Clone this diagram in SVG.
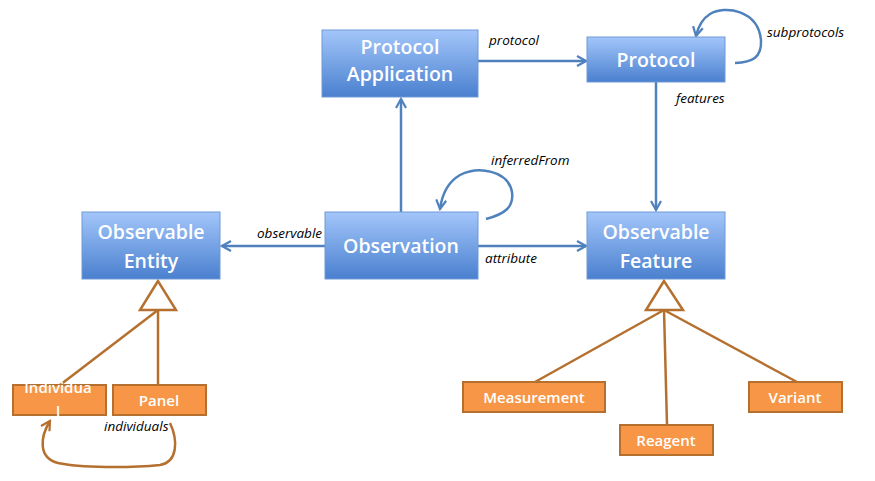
<svg xmlns="http://www.w3.org/2000/svg" width="875" height="481" viewBox="0 0 875 481">
<defs>
<linearGradient id="blue" x1="0" y1="0" x2="0" y2="1">
<stop offset="0" stop-color="#A3C6FA"/>
<stop offset="1" stop-color="#4A80CF"/>
</linearGradient>
<marker id="arr" viewBox="0 0 12 12" refX="10" refY="6" markerWidth="12" markerHeight="12" markerUnits="userSpaceOnUse" orient="auto">
<path d="M1,1 L10,6 L1,11" fill="none" stroke="#4F81BD" stroke-width="2.2"/>
</marker>
<marker id="arrO" viewBox="0 0 12 12" refX="10" refY="6" markerWidth="12" markerHeight="12" markerUnits="userSpaceOnUse" orient="auto">
<path d="M1,1 L10,6 L1,11" fill="none" stroke="#B5702F" stroke-width="2.2"/>
</marker>
</defs>
<style>
.bn{fill:url(#blue);stroke:#6E99D6;stroke-width:1}
.on{fill:#F79646;stroke:#B5702F;stroke-width:2}
.bt{font-family:"Open Sans","Liberation Sans",sans-serif;font-size:19.5px;font-weight:600;fill:#fff;text-anchor:middle}
.ot{font-family:"Open Sans","Liberation Sans",sans-serif;font-size:15px;font-weight:600;fill:#fff;text-anchor:middle}
.lb{font-family:"Open Sans","Liberation Sans",sans-serif;font-size:13.5px;font-style:italic;fill:#000}
.bl{fill:none;stroke:#4F81BD;stroke-width:2.5}
.ol{fill:none;stroke:#B5702F;stroke-width:2.5}
</style>
<g id="connectors">
<line class="bl" x1="401" y1="212" x2="401" y2="99" marker-end="url(#arr)"/>
<line class="bl" x1="478" y1="61" x2="586" y2="61" marker-end="url(#arr)"/>
<line class="bl" x1="656" y1="82" x2="656" y2="210" marker-end="url(#arr)"/>
<line class="bl" x1="325" y1="246" x2="222" y2="246" marker-end="url(#arr)"/>
<line class="bl" x1="478" y1="246" x2="586" y2="246" marker-end="url(#arr)"/>
<path class="bl" d="M735,63 C752,62 762,58 761,40 C758,10 725,5 710,14 C702,19 698,27 696,36" marker-end="url(#arr)"/>
<path class="bl" d="M486,219 C505,214 514,207 512,192 C508,170 478,166 460,175 C448,182 442,194 440,209" marker-end="url(#arr)"/>
<polygon points="158,281 140,310 176,310" fill="#fff" stroke="#B5702F" stroke-width="2.5"/>
<line class="ol" x1="158" y1="310" x2="60" y2="385"/>
<line class="ol" x1="158" y1="310" x2="158" y2="385"/>
<polygon points="664,281 646,310 683,310" fill="#fff" stroke="#B5702F" stroke-width="2.5"/>
<line class="ol" x1="664" y1="310" x2="535" y2="382"/>
<line class="ol" x1="664" y1="310" x2="667" y2="425"/>
<line class="ol" x1="664" y1="310" x2="797" y2="382"/>
<path class="ol" d="M170,423 C178,440 178,462 160,465 C130,468 80,468 58,463 C38,458 40,437 50,421" marker-end="url(#arrO)"/>
<text class="lb" x="489" y="45">protocol</text>
<text class="lb" x="767" y="37">subprotocols</text>
<text class="lb" x="676" y="103">features</text>
<text class="lb" x="491" y="165">inferredFrom</text>
<text class="lb" x="257" y="238">observable</text>
<text class="lb" x="485" y="263">attribute</text>
<text class="lb" x="104" y="431">individuals</text>
</g>
<g id="protocol-application">
<rect class="bn" x="322" y="30" width="156" height="67"/>
<text class="bt" x="400" y="54">Protocol</text>
<text class="bt" x="400" y="81">Application</text>
</g>
<g id="protocol">
<rect class="bn" x="587" y="37" width="138" height="45"/>
<text class="bt" x="656" y="67">Protocol</text>
</g>
<g id="observation">
<rect class="bn" x="325" y="212" width="153" height="67"/>
<text class="bt" x="401" y="253">Observation</text>
</g>
<g id="observable-entity">
<rect class="bn" x="82" y="212" width="138" height="67"/>
<text class="bt" x="151" y="239">Observable</text>
<text class="bt" x="151" y="268">Entity</text>
</g>
<g id="observable-feature">
<rect class="bn" x="587" y="212" width="138" height="67"/>
<text class="bt" x="656" y="239">Observable</text>
<text class="bt" x="656" y="268">Feature</text>
</g>
<g id="individual">
<rect class="on" x="13" y="385" width="93" height="30"/>
<text class="ot" x="58" y="393">Individua</text>
<text class="ot" x="58" y="417">l</text>
</g>
<g id="panel">
<rect class="on" x="113" y="385" width="93" height="30"/>
<text class="ot" x="159" y="406">Panel</text>
</g>
<g id="measurement">
<rect class="on" x="463" y="382" width="142" height="30"/>
<text class="ot" x="534" y="403">Measurement</text>
</g>
<g id="reagent">
<rect class="on" x="620" y="425" width="93" height="30"/>
<text class="ot" x="666" y="446">Reagent</text>
</g>
<g id="variant">
<rect class="on" x="749" y="382" width="93" height="30"/>
<text class="ot" x="795" y="403">Variant</text>
</g>
</svg>
